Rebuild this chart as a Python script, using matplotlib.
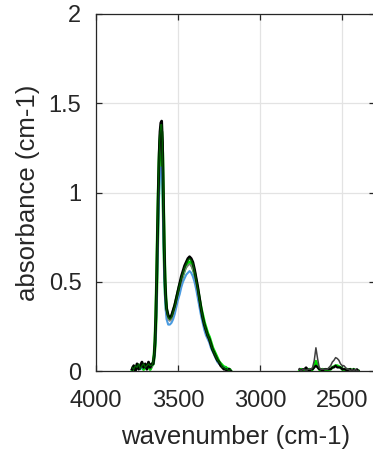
import numpy as np
import matplotlib
matplotlib.use('Agg')
import matplotlib.pyplot as plt

plt.rcParams['font.family'] = ['Liberation Sans', 'DejaVu Sans']

# wavenumber grid of the OH band (cm-1)
wn_main = [3780, 3770, 3760, 3750, 3740, 3730, 3720, 3710, 3700, 3690, 3680, 3670, 3660,
           3652, 3645,
           3640, 3635, 3630, 3625, 3620, 3615, 3610, 3605, 3600, 3595, 3590, 3585, 3580, 3575, 3570,
           3560, 3550, 3540, 3530, 3520, 3510, 3500, 3490, 3480, 3470,
           3460, 3450, 3440, 3430, 3420, 3410, 3400, 3390, 3380, 3370,
           3360, 3350, 3340, 3330, 3320, 3310, 3300, 3290, 3280, 3270,
           3260, 3250, 3240, 3230, 3220, 3210, 3200, 3190, 3180]

# wavenumber grid of the small bands
wn_small = [2760, 2750, 2740, 2730, 2720, 2710, 2700, 2690, 2680, 2670,
            2660, 2650, 2640, 2630, 2620, 2610, 2600, 2590, 2580, 2570,
            2560, 2550, 2540, 2530, 2520, 2510, 2500, 2490, 2480, 2470,
            2460, 2450, 2440, 2430, 2420, 2410, 2400]

abs_black = [0.01, 0.03, 0.00, 0.04, 0.01, 0.03, 0.05, 0.02, 0.04, 0.01, 0.05, 0.02, 0.04,
             0.04, 0.09,
             0.17, 0.31, 0.52, 0.78, 1.02, 1.22, 1.34, 1.39, 1.40, 1.28, 1.00, 0.72, 0.52, 0.41, 0.35,
             0.31, 0.30, 0.31, 0.34, 0.37, 0.41, 0.45, 0.49, 0.53, 0.56,
             0.59, 0.61, 0.63, 0.64, 0.63, 0.61, 0.57, 0.52, 0.47, 0.41,
             0.35, 0.30, 0.26, 0.23, 0.20, 0.18, 0.15, 0.12, 0.10, 0.08,
             0.06, 0.05, 0.03, 0.02, 0.01, 0.01, 0.00, 0.01, 0.00]

abs_dkgreen = [0.02, 0.01, 0.03, 0.02, 0.04, 0.01, 0.03, 0.04, 0.02, 0.03, 0.04, 0.03, 0.03,
               0.05, 0.10,
               0.18, 0.32, 0.53, 0.78, 1.01, 1.21, 1.33, 1.38, 1.38, 1.26, 0.98, 0.71, 0.51, 0.40, 0.34,
               0.30, 0.29, 0.30, 0.33, 0.36, 0.40, 0.44, 0.48, 0.52, 0.55,
               0.58, 0.60, 0.62, 0.63, 0.62, 0.60, 0.56, 0.51, 0.46, 0.40,
               0.35, 0.30, 0.26, 0.23, 0.20, 0.18, 0.15, 0.12, 0.10, 0.08,
               0.06, 0.05, 0.04, 0.02, 0.02, 0.01, 0.01, 0.00, 0.01]

abs_green = [0.00, 0.02, 0.01, 0.03, 0.02, 0.02, 0.04, 0.01, 0.03, 0.02, 0.04, 0.01, 0.03,
             0.04, 0.09,
             0.16, 0.30, 0.50, 0.75, 0.98, 1.17, 1.29, 1.34, 1.34, 1.22, 0.95, 0.69, 0.50, 0.40, 0.34,
             0.30, 0.29, 0.30, 0.33, 0.36, 0.40, 0.44, 0.48, 0.51, 0.54,
             0.57, 0.59, 0.60, 0.61, 0.60, 0.58, 0.55, 0.50, 0.45, 0.40,
             0.35, 0.31, 0.27, 0.24, 0.21, 0.19, 0.16, 0.13, 0.11, 0.09,
             0.07, 0.05, 0.04, 0.03, 0.02, 0.02, 0.01, 0.01, 0.00]

abs_blue = [0.01, 0.02, 0.01, 0.02, 0.03, 0.01, 0.02, 0.03, 0.02, 0.02, 0.03, 0.02, 0.03,
            0.04, 0.08,
            0.14, 0.26, 0.43, 0.64, 0.84, 1.00, 1.10, 1.14, 1.14, 1.04, 0.82, 0.59, 0.43, 0.34, 0.29,
            0.26, 0.26, 0.27, 0.29, 0.32, 0.36, 0.40, 0.43, 0.47, 0.50,
            0.52, 0.54, 0.55, 0.56, 0.55, 0.53, 0.50, 0.46, 0.41, 0.36,
            0.31, 0.27, 0.23, 0.20, 0.18, 0.16, 0.13, 0.11, 0.09, 0.07,
            0.05, 0.04, 0.03, 0.02, 0.02, 0.01, 0.01, 0.00, 0.00]

abs_gray = [0.02, 0.02, 0.01, 0.03, 0.02, 0.03, 0.03, 0.02, 0.03, 0.02, 0.03, 0.03, 0.02,
            0.05, 0.09,
            0.17, 0.31, 0.51, 0.77, 1.00, 1.19, 1.30, 1.34, 1.34, 1.23, 0.96, 0.69, 0.50, 0.39, 0.33,
            0.29, 0.28, 0.29, 0.32, 0.35, 0.39, 0.43, 0.47, 0.50, 0.53,
            0.56, 0.58, 0.59, 0.60, 0.59, 0.57, 0.54, 0.49, 0.44, 0.39,
            0.34, 0.29, 0.25, 0.22, 0.19, 0.17, 0.14, 0.12, 0.09, 0.07,
            0.06, 0.04, 0.03, 0.02, 0.01, 0.01, 0.00, 0.01, 0.00]

small_gray = [0.01, 0.00, 0.01, 0.01, 0.00, 0.01, 0.01, 0.01, 0.02, 0.06,
              0.13, 0.07, 0.02, 0.01, 0.01, 0.01, 0.01, 0.01, 0.02, 0.03,
              0.05, 0.06, 0.075, 0.07, 0.06, 0.04, 0.03, 0.03, 0.02, 0.01,
              0.01, 0.00, 0.01, 0.00, 0.01, 0.00, 0.00]

small_green = [0.00, 0.01, 0.00, 0.01, 0.01, 0.00, 0.01, 0.00, 0.01, 0.03,
               0.055, 0.03, 0.01, 0.00, 0.01, 0.00, 0.01, 0.00, 0.01, 0.01,
               0.02, 0.025, 0.03, 0.03, 0.025, 0.02, 0.01, 0.01, 0.00, 0.01,
               0.00, 0.01, 0.00, 0.01, 0.00, 0.00, 0.00]

small_black = [0.01, 0.00, 0.01, 0.01, 0.02, 0.01, 0.00, 0.01, 0.01, 0.02,
               0.03, 0.02, 0.01, 0.01, 0.00, 0.01, 0.01, 0.01, 0.01, 0.01,
               0.02, 0.02, 0.03, 0.02, 0.02, 0.02, 0.01, 0.01, 0.01, 0.00,
               0.01, 0.01, 0.00, 0.01, 0.00, 0.01, 0.00]

xticks = [4000, 3500, 3000, 2500]
yticks = [0, 0.5, 1, 1.5, 2]

txt_col = '#262626'

fig = plt.figure(figsize=(3.73, 4.54), dpi=100)
ax = fig.add_axes([96 / 373, 83 / 454, 279 / 373, 357 / 454])

ax.plot(wn_main, abs_green, color='#00e000', lw=2.4, zorder=2)
ax.plot(wn_small, small_green, color='#00e000', lw=2.0, zorder=2)
ax.plot(wn_main, abs_blue, color='#4a9be0', lw=1.5, zorder=3)
ax.plot(wn_main, abs_gray, color='#7f7f7f', lw=1.2, zorder=4)
ax.plot(wn_main, abs_black, color='black', lw=2.0, zorder=5)
ax.plot(wn_small, small_black, color='black', lw=1.6, zorder=3)
ax.plot(wn_small, small_gray, color='#404040', lw=1.1, zorder=4)
ax.plot(wn_main, abs_dkgreen, color='#005a00', lw=1.0, zorder=6)

ax.set_xlim(4000, 2300)
ax.set_ylim(0, 2)
ax.set_xticks(xticks)
ax.set_yticks(yticks)
ax.set_yticklabels(['0', '0.5', '1', '1.5', '2'])
ax.grid(True, color='#e3e3e3', lw=0.9)
ax.set_axisbelow(True)

for s in ax.spines.values():
    s.set_color(txt_col)
    s.set_linewidth(0.9)

ax.tick_params(direction='in', length=4, width=0.9, colors=txt_col,
               labelsize=17, top=True, right=True)
ax.tick_params(axis='x', pad=14)
ax.tick_params(axis='y', pad=10.5)

ax.set_xlabel('wavenumber (cm-1)', fontsize=18.5, color=txt_col, labelpad=9)
ax.set_ylabel('absorbance (cm-1)', fontsize=18.5, color=txt_col, labelpad=6)

fig.savefig('out.png', dpi=100)
